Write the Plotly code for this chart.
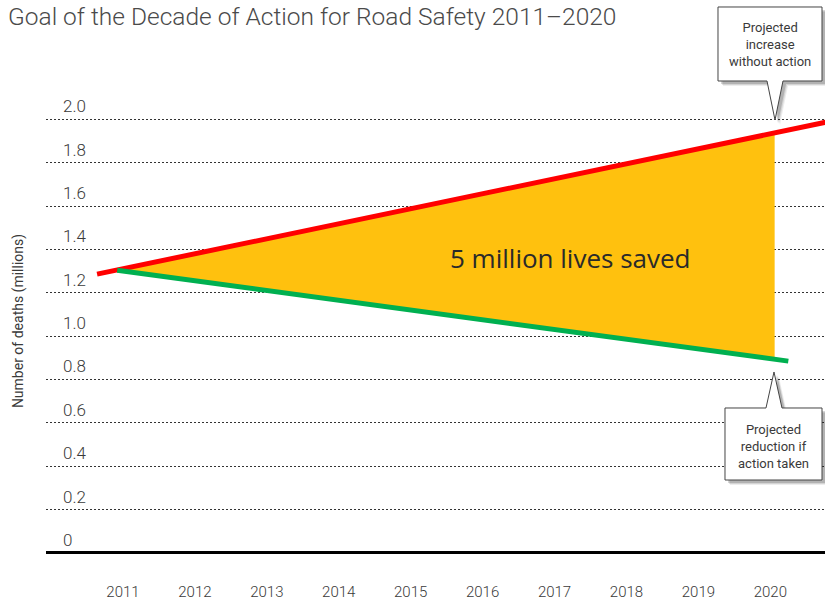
import plotly.graph_objects as go

# ---------------------------------------------------------------
# DATA
# ---------------------------------------------------------------
years = [2011, 2012, 2013, 2014, 2015, 2016, 2017, 2018, 2019, 2020]
y_ticks = [0, 0.2, 0.4, 0.6, 0.8, 1.0, 1.2, 1.4, 1.6, 1.8, 2.0]
y_tick_text = ["0", "0.2", "0.4", "0.6", "0.8", "1.0", "1.2", "1.4", "1.6", "1.8", "2.0"]

# projected increase without action (red)
no_action_years = [2010.64, 2020.8]
no_action_deaths = [1.286, 1.989]

# projected reduction if action taken (green)
action_years = [2010.92, 2020.25]
action_deaths = [1.304, 0.885]

# lives saved area between the two projections
saved_years = [2010.92, 2020.06, 2020.06]
saved_deaths = [1.304, 1.938, 0.894]

RED = "#FF0000"
GREEN = "#00B050"
ORANGE = "#FFC10E"
TEXT = "#3a3a3a"
FONT = "Roboto, sans-serif"

W, H = 825, 602
# plot area in pixels (used only to place the callout boxes)
L, R, T, B = 46, 825, 76, 566


def px(x):
    return (x - L) / (R - L)


def py(y):
    return (B - y) / (B - T)


def path(points, dx=0, dy=0):
    pts = [f"{px(x + dx):.5f},{py(y + dy):.5f}" for x, y in points]
    return "M " + " L ".join(pts) + " Z"


fig = go.Figure()

fig.add_trace(go.Scatter(
    x=saved_years, y=saved_deaths,
    mode="lines", fill="toself", fillcolor=ORANGE,
    line=dict(width=0), hoverinfo="skip", showlegend=False
))
fig.add_trace(go.Scatter(
    x=no_action_years, y=no_action_deaths,
    mode="lines", line=dict(color=RED, width=5), showlegend=False
))
fig.add_trace(go.Scatter(
    x=action_years, y=action_deaths,
    mode="lines", line=dict(color=GREEN, width=5), showlegend=False
))

# callout boxes (pixels)
top_box = [(718, 7), (822, 7), (822, 81), (783, 81), (775, 120), (767, 81), (718, 81)]
bottom_box = [(725, 408), (766, 408), (774, 372), (782, 408), (822, 408), (822, 480), (725, 480)]

shapes = []
for box in [top_box, bottom_box]:
    for off, alpha in [(5, 0.07), (4, 0.1), (3, 0.16)]:
        shapes.append(dict(type="path", xref="paper", yref="paper",
                           path=path(box, off, off), line=dict(width=0),
                           fillcolor=f"rgba(0,0,0,{alpha})", layer="above"))
    shapes.append(dict(type="path", xref="paper", yref="paper",
                       path=path(box), line=dict(color="#444", width=1),
                       fillcolor="white", layer="above"))

annotations = [
    dict(x=px(770), y=py(45), xref="paper", yref="paper",
         xanchor="center", yanchor="middle",
         text="Projected<br>increase<br>without action", showarrow=False,
         font=dict(family=FONT, size=13, color=TEXT), align="center"),
    dict(x=px(773), y=py(446), xref="paper", yref="paper",
         xanchor="center", yanchor="middle",
         text="Projected<br>reduction if<br>action taken", showarrow=False,
         font=dict(family=FONT, size=13, color=TEXT), align="center"),
    dict(x=2017.22, y=1.36, xref="x", yref="y",
         xanchor="center", yanchor="middle",
         text="5 million lives saved", showarrow=False,
         font=dict(family="Open Sans", size=26, color="#2a2a2a")),
]

fig.update_layout(
    template="none",
    width=W, height=H,
    margin=dict(l=L, r=W - R, t=T, b=H - B, pad=0),
    paper_bgcolor="white", plot_bgcolor="white",
    showlegend=False,
    title=dict(text="Goal of the Decade of Action for Road Safety 2011–2020",
               x=8 / W, xref="container", xanchor="left",
               y=1 - 16 / H, yref="container", yanchor="middle",
               font=dict(family=FONT, size=24.5, color="#4a4a4a", weight=300)),
    shapes=shapes,
    annotations=annotations,
    xaxis=dict(
        range=[2009.93, 2020.76], tickvals=years, ticktext=[str(y) for y in years],
        showgrid=False, zeroline=False, showline=False,
        ticks="", ticklabelstandoff=15, automargin=False,
        tickfont=dict(family=FONT, size=15, color=TEXT, weight=300)
    ),
    yaxis=dict(
        range=[-0.06, 2.2], tickvals=y_ticks, ticktext=y_tick_text,
        showgrid=True, gridcolor="#333", griddash="2px,2px", gridwidth=1,
        zeroline=True, zerolinecolor="black", zerolinewidth=3,
        showline=False, ticks="", automargin=False,
        ticklabelposition="inside", ticklabelstandoff=14, ticklabelshift=-13,
        tickfont=dict(family=FONT, size=17, color=TEXT, weight=300),
        title=dict(text="Number of deaths (millions)", standoff=36,
                   font=dict(family=FONT, size=14, color=TEXT))
    ),
)

# the page body has a default 8px margin; drop it so the figure fills the window
fig.write_html("out.html", config={"displayModeBar": False},
               post_script="document.body.style.margin='0';")
